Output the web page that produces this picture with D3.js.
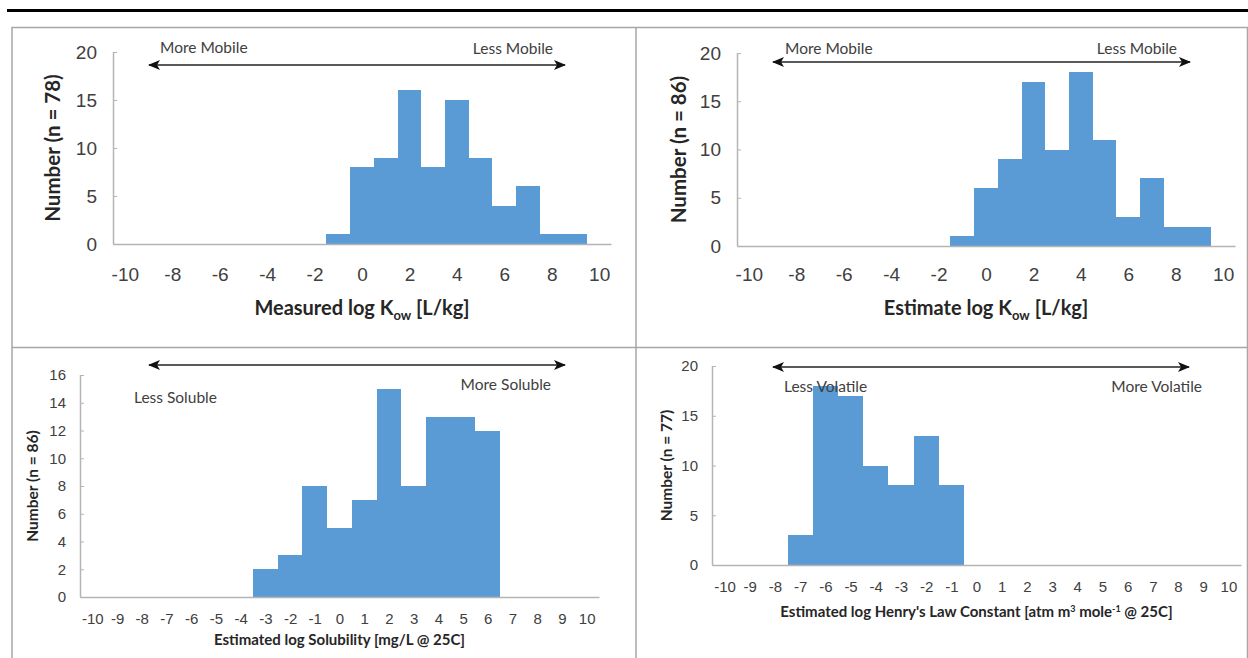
<!DOCTYPE html>
<html>
<head>
<meta charset="utf-8">
<script src="https://cdn.jsdelivr.net/npm/d3@7"></script>
<style>
  body { margin: 0; background: #fff; }
  svg { display: block; font-family: Lato, "Open Sans", sans-serif; }
  .tick text { fill: #404040; }
  .domain { stroke: #b4b4b4; stroke-width: 1.5; }
  .tick line { stroke: #b4b4b4; }
  .axisTitle { font-weight: bold; fill: #262626; }
  .note { fill: #404040; }
</style>
</head>
<body>
<div id="figure"></div>
<script>
// bin centres (bins are one log unit wide) and counts per bin
const kowBins = [-1, 0, 1, 2, 3, 4, 5, 6, 7, 8, 9]
const measuredKowCounts = [1, 8, 9, 16, 8, 15, 9, 4, 6, 1, 1]
const estimateKowCounts = [1, 6, 9, 17, 10, 18, 11, 3, 7, 2, 2]

const solubilityBins = [-3, -2, -1, 0, 1, 2, 3, 4, 5, 6]
const solubilityCounts = [2, 3, 8, 5, 7, 15, 8, 13, 13, 12]

const henryBins = [-7, -6, -5, -4, -3, -2, -1]
const henryCounts = [3, 18, 17, 10, 8, 13, 8]

const evenTicks = [-10, -8, -6, -4, -2, 0, 2, 4, 6, 8, 10]
const unitTicks = [-10, -9, -8, -7, -6, -5, -4, -3, -2, -1, 0, 1, 2, 3, 4, 5, 6, 7, 8, 9, 10]
const countTicks20 = [0, 5, 10, 15, 20]
const countTicks16 = [0, 2, 4, 6, 8, 10, 12, 14, 16]

const svg = d3.select('#figure').append('svg')
    .attr('width', 1248)
    .attr('height', 658)

svg.append('defs').append('marker')
    .attr('id', 'head')
    .attr('viewBox', '0 0 12 10')
    .attr('refX', 11)
    .attr('refY', 5)
    .attr('markerWidth', 12)
    .attr('markerHeight', 10)
    .attr('markerUnits', 'userSpaceOnUse')
    .attr('orient', 'auto-start-reverse')
    .append('path')
    .attr('d', 'M0,0 L12,5 L0,10 L3,5 Z')
    .attr('fill', '#111')

// page furniture: rule on top and the panel frame
svg.append('line')
    .attr('x1', 7).attr('x2', 1248).attr('y1', 10.5).attr('y2', 10.5)
    .attr('stroke', '#000').attr('stroke-width', 3)

const frame = svg.append('g')
    .attr('fill', 'none')
    .attr('stroke', '#a6a6a6')
    .attr('stroke-width', 1.5)
frame.append('path').attr('d', 'M12,658 V27.5 H1247.5 V658')
frame.append('line').attr('x1', 636).attr('x2', 636).attr('y1', 27).attr('y2', 658)
frame.append('line').attr('x1', 12).attr('x2', 1248).attr('y1', 347.5).attr('y2', 347.5)

const plainNumber = d => String(d)   // hyphen minus, like the original

const renderHistogram = ({bins, counts, box, yTicks, xTicks, tickFont, xLabelY, yLabelGap,
                          title, titleFont, titleY, yTitle, yTitleFont, yTitleX, arrow, notes}) => {
    const x = d3.scaleLinear()
        .domain([-10.5, 10.5])
        .range([box.left, box.right])
    const y = d3.scaleLinear()
        .domain([0, d3.max(yTicks)])
        .range([box.bottom, box.top])

    const g = svg.append('g')

    g.selectAll('rect.bar')
        .data(bins.map((b, i) => ({bin: b, count: counts[i]})))
        .enter().append('rect')
        .attr('class', 'bar')
        .attr('x', d => x(d.bin - 0.5))
        .attr('width', d => x(d.bin + 0.5) - x(d.bin - 0.5))
        .attr('y', d => y(d.count))
        .attr('height', d => y(0) - y(d.count))
        .attr('fill', '#5b9bd5')
        .attr('shape-rendering', 'crispEdges')

    g.append('g')
        .attr('transform', `translate(0, ${y(0)})`)
        .call(d3.axisBottom(x).tickValues(xTicks).tickFormat(plainNumber)
            .tickSize(0).tickSizeOuter(0).tickPadding(xLabelY))
        .call(a => a.selectAll('text').style('font-size', tickFont + 'px'))

    g.append('g')
        .attr('transform', `translate(${box.left}, 0)`)
        .call(d3.axisLeft(y).tickValues(yTicks).tickFormat(plainNumber)
            .tickSize(-4).tickSizeOuter(0).tickPadding(yLabelGap))
        .call(a => a.selectAll('text').style('font-size', tickFont + 'px'))
        .call(a => a.select('.domain').attr('d', `M0.5,${box.top}V${y(0)}`))

    // x title, with sub/superscripts in tspans
    const t = g.append('text')
        .attr('class', 'axisTitle')
        .attr('x', (x(-10.5) + x(10.5)) / 2 + (title.shift || 0))
        .attr('y', titleY)
        .attr('text-anchor', 'middle')
        .style('font-size', titleFont + 'px')
    title.parts.forEach(p => {
        const s = t.append('tspan').text(p.text)
        if (p.sub) s.attr('dy', titleFont * 0.25).style('font-size', titleFont * 0.65 + 'px')
        if (p.sup) s.attr('dy', -titleFont * 0.35).style('font-size', titleFont * 0.6 + 'px')
        if (p.reset) s.attr('dy', p.reset * titleFont)
    })

    g.append('text')
        .attr('class', 'axisTitle')
        .attr('transform', `translate(${yTitleX}, ${(box.top + box.bottom) / 2}) rotate(-90)`)
        .attr('text-anchor', 'middle')
        .attr('dy', '0.35em')
        .style('font-size', yTitleFont + 'px')
        .text(yTitle)

    g.append('line')
        .attr('x1', arrow.x1).attr('x2', arrow.x2)
        .attr('y1', arrow.y).attr('y2', arrow.y)
        .attr('stroke', '#222').attr('stroke-width', 1.3)
        .attr('marker-start', 'url(#head)')
        .attr('marker-end', 'url(#head)')

    notes.forEach(n => {
        g.append('text')
            .attr('class', 'note')
            .attr('x', n.x).attr('y', n.y)
            .attr('dy', '0.35em')
            .attr('text-anchor', n.anchor)
            .style('font-size', n.size + 'px')
            .text(n.text)
    })
}

renderHistogram({
    bins: kowBins, counts: measuredKowCounts,
    box: {left: 113, right: 611, top: 52, bottom: 244},
    yTicks: countTicks20, xTicks: evenTicks, tickFont: 19, xLabelY: 24, yLabelGap: 16,
    title: {parts: [{text: 'Measured log K'}, {text: 'ow', sub: true}, {text: ' [L/kg]', reset: -0.25}]},
    titleFont: 20, titleY: 315, yTitle: 'Number (n = 78)', yTitleFont: 20.5, yTitleX: 53,
    arrow: {x1: 149, x2: 565, y: 65},
    notes: [{text: 'More Mobile', x: 160, y: 48, anchor: 'start', size: 15.5},
            {text: 'Less Mobile', x: 553, y: 49, anchor: 'end', size: 15.5}]
})

renderHistogram({
    bins: kowBins, counts: estimateKowCounts,
    box: {left: 737, right: 1235, top: 53, bottom: 246},
    yTicks: countTicks20, xTicks: evenTicks, tickFont: 19, xLabelY: 22, yLabelGap: 16,
    title: {parts: [{text: 'Estimate log K'}, {text: 'ow', sub: true}, {text: ' [L/kg]', reset: -0.25}]},
    titleFont: 20, titleY: 315, yTitle: 'Number (n = 86)', yTitleFont: 20.5, yTitleX: 679,
    arrow: {x1: 773, x2: 1190, y: 62},
    notes: [{text: 'More Mobile', x: 785, y: 49, anchor: 'start', size: 15.5},
            {text: 'Less Mobile', x: 1177, y: 49, anchor: 'end', size: 15.5}]
})

renderHistogram({
    bins: solubilityBins, counts: solubilityCounts,
    box: {left: 80, right: 599, top: 375, bottom: 597},
    yTicks: countTicks16, xTicks: unitTicks, tickFont: 15, xLabelY: 16, yLabelGap: 14,
    title: {parts: [{text: 'Estimated log Solubility [mg/L @ 25C]'}]},
    titleFont: 15, titleY: 645, yTitle: 'Number (n = 86)', yTitleFont: 15.5, yTitleX: 33,
    arrow: {x1: 149, x2: 565, y: 365},
    notes: [{text: 'Less Soluble', x: 134, y: 398, anchor: 'start', size: 15.5},
            {text: 'More Soluble', x: 551, y: 385, anchor: 'end', size: 15.5}]
})

renderHistogram({
    bins: henryBins, counts: henryCounts,
    box: {left: 712, right: 1241, top: 366, bottom: 565},
    yTicks: countTicks20, xTicks: unitTicks, tickFont: 15, xLabelY: 16, yLabelGap: 14,
    title: {parts: [{text: "Estimated log Henry's Law Constant [atm m"}, {text: '3', sup: true},
                    {text: ' mole', reset: 0.35}, {text: '-1', sup: true}, {text: ' @ 25C]', reset: 0.35}]},
    titleFont: 15, titleY: 617, yTitle: 'Number (n = 77)', yTitleFont: 15.5, yTitleX: 667,
    arrow: {x1: 773, x2: 1189, y: 367},
    notes: [{text: 'Less Volatile', x: 784, y: 387, anchor: 'start', size: 15.5},
            {text: 'More Volatile', x: 1202, y: 387, anchor: 'end', size: 15.5}]
})
</script>
</body>
</html>
